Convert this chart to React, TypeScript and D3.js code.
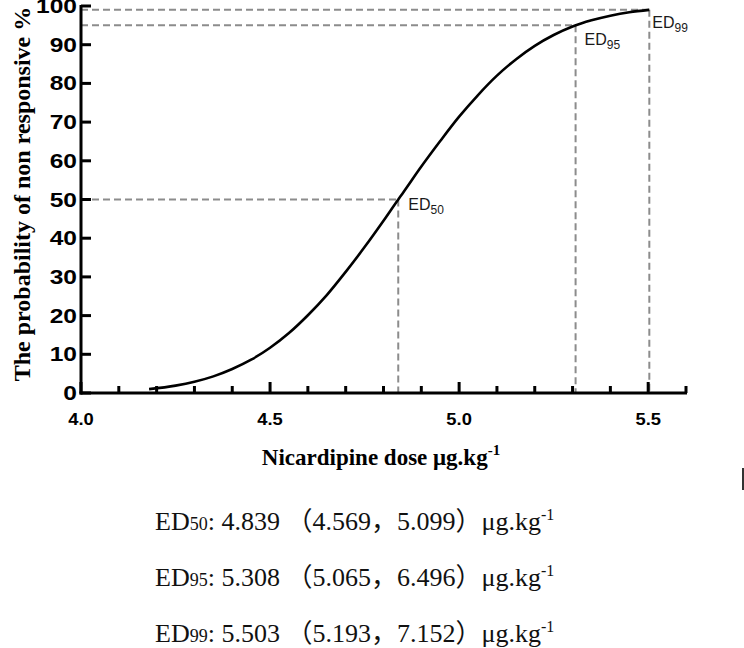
import * as d3 from 'd3';

// fitted dose-response curve
const doses = [4.18, 4.25, 4.3, 4.35, 4.4, 4.45, 4.5, 4.55, 4.6, 4.65, 4.7, 4.75, 4.8, 4.839, 4.85, 4.9, 4.95, 5.0, 5.05, 5.1, 5.15, 5.2, 5.25, 5.3, 5.35, 5.4, 5.45, 5.503];
const probs = [1.0, 1.9, 2.9, 4.3, 6.2, 8.6, 11.7, 15.5, 20.1, 25.3, 31.3, 37.7, 44.5, 50, 51.5, 58.5, 65.1, 71.4, 77.0, 82.0, 86.2, 89.7, 92.5, 94.7, 96.3, 97.5, 98.4, 99];

// ED markers
const edLevels = ['50', '95', '99'];
const edDoses = [4.839, 5.308, 5.503];
const edProbs = [50, 95, 99];
const ciLow = ['4.569', '5.065', '5.193'];
const ciHigh = ['5.099', '6.496', '7.152'];
const edLabelOffset = [[10, 10], [9, 20], [3, 18]];

const xLabel = 'Nicardipine dose μg.kg';
const yLabel = 'The probability of non responsive %';

const W = 744;
const H = 648;

const SANS = '"Liberation Sans", Arial, Helvetica, sans-serif';
const SERIF = '"Liberation Serif", "Times New Roman", "Noto Sans CJK SC", serif';

export default function App() {
    const x = d3.scaleLinear().domain([4.0, 5.6]).range([81, 686]);
    const y = d3.scaleLinear().domain([0, 100]).range([393, 6]);

    const line = d3.line<number>()
        .x((_, i) => x(doses[i]))
        .y(d => y(d))
        .curve(d3.curveMonotoneX);

    const xTicks = x.ticks(16);
    const yTicks = y.ticks(10);
    const isMajor = (v: number) => Math.abs(v * 2 - Math.round(v * 2)) < 1e-6;

    return (
        <svg width={W} height={H} style={{ position: 'absolute', left: 0, top: 0, background: '#fff' }}>
            {/* dashed guides */}
            {edLevels.map((lv, i) => (
                <g key={lv} stroke="#8c8c8c" strokeWidth={2} strokeDasharray="7,4" fill="none">
                    <line x1={x(4.0)} x2={x(edDoses[i])} y1={y(edProbs[i])} y2={y(edProbs[i])} />
                    <line x1={x(edDoses[i])} x2={x(edDoses[i])} y1={y(edProbs[i])} y2={y(0)} />
                </g>
            ))}

            {/* curve */}
            <path d={line(probs) ?? ''} fill="none" stroke="#000" strokeWidth={2.6} />

            {/* ED labels */}
            {edLevels.map((lv, i) => (
                <text key={lv} x={x(edDoses[i]) + edLabelOffset[i][0]} y={y(edProbs[i]) + edLabelOffset[i][1]}
                    fontFamily={SANS} fontSize={16} fill="#1a1a1a">
                    ED<tspan fontSize={12} dy={4}>{lv}</tspan>
                </text>
            ))}

            {/* axes */}
            <g stroke="#000" strokeWidth={3} fill="none">
                <line x1={x(4.0)} x2={x(4.0)} y1={y(0) + 1.5} y2={y(100) - 1} />
                <line x1={x(4.0) - 1.5} x2={x(5.6) + 1} y1={y(0)} y2={y(0)} />
                {yTicks.map(t => (
                    <line key={t} x1={x(4.0)} x2={x(4.0) + 10} y1={y(t)} y2={y(t)} />
                ))}
                {xTicks.map(t => (
                    <line key={t} x1={x(t)} x2={x(t)} y1={y(0)} y2={y(0) - (isMajor(t) ? 11 : 7)} />
                ))}
            </g>

            {yTicks.map(t => (
                <text key={t} transform={`translate(${x(4.0) - 4},${y(t) + 7}) scale(1.26,1)`} textAnchor="end"
                    fontFamily={SANS} fontWeight="bold" fontSize={19.5}>{t}</text>
            ))}
            {xTicks.filter(isMajor).map(t => (
                <text key={t} transform={`translate(${x(t)},${y(0) + 32}) scale(1.08,1)`} textAnchor="middle"
                    fontFamily={SANS} fontWeight="bold" fontSize={17}>{t.toFixed(1)}</text>
            ))}

            {/* axis titles */}
            <text x={381} y={465} textAnchor="middle" fontFamily={SERIF} fontWeight="bold" fontSize={23}>
                {xLabel}<tspan fontSize={15} dy={-10}>-1</tspan>
            </text>
            <text transform={`translate(30,194) rotate(-90)`} textAnchor="middle"
                fontFamily={SERIF} fontWeight="bold" fontSize={24}>{yLabel}</text>

            {/* ED summary */}
            {edLevels.map((lv, i) => (
                <text key={lv} x={155} y={530 + i * 56} fontFamily={SERIF} fontSize={26} fill="#111">
                    ED<tspan fontSize={18}>{lv}</tspan>
                    <tspan>: {edDoses[i].toFixed(3)} （{ciLow[i]}，{ciHigh[i]}）μg.kg</tspan>
                    <tspan fontSize={16} dy={-10}>-1</tspan>
                </text>
            ))}

            <rect x={742} y={468} width={2} height={22} fill="#333" />
        </svg>
    );
}
